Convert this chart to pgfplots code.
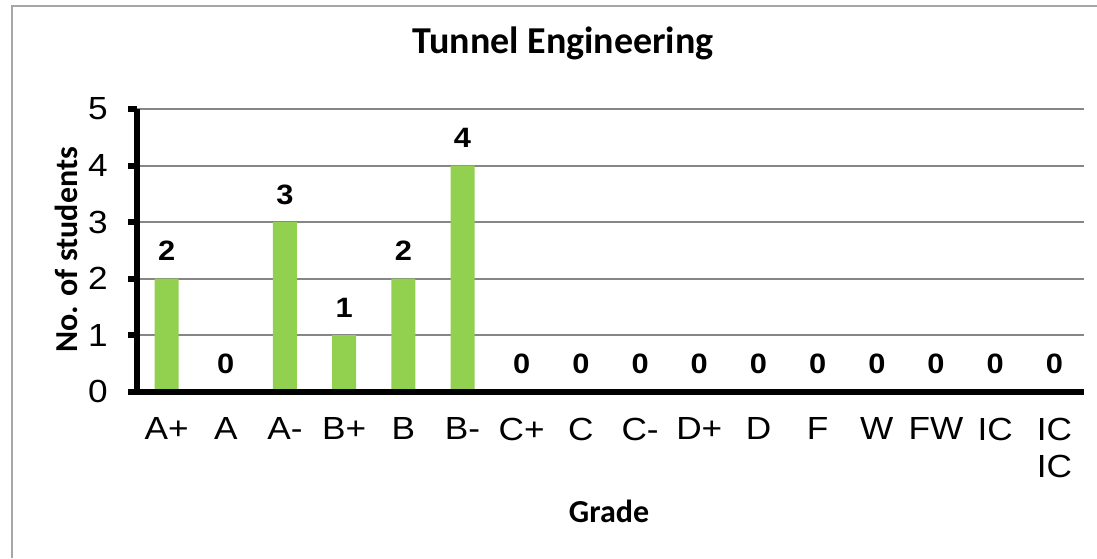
\documentclass[border=0pt]{standalone}
\usepackage{pgfplots}
\pgfplotsset{compat=1.18}
\usepackage{fontspec}
\setmainfont{Liberation Sans}[FakeStretch=1.1]
\newfontfamily\carlito{Carlito}
\definecolor{barg}{HTML}{92D050}
\definecolor{gridg}{HTML}{868686}
\definecolor{frameg}{HTML}{A6A6A6}
\newcommand\ticksize{\fontsize{16pt}{18.5pt}\selectfont}
\newcommand\datasize{\fontsize{14pt}{16pt}\selectfont\bfseries}
\begin{document}
\begin{tikzpicture}
\useasboundingbox (0pt,0pt) rectangle (548.5pt,279pt);
\draw[frameg, line width=1.25pt] (6pt,0pt) -- (6pt,276pt) -- (548.5pt,276pt);
\begin{axis}[
  at={(68.5pt,83.25pt)}, anchor=south west,
  scale only axis, width=473.5pt, height=141.25pt,
  xmin=-0.5, xmax=15.5, ymin=0, ymax=5,
  ybar, bar width=12pt,
  axis x line*=bottom, axis y line*=left,
  axis line style={line width=3pt, black},
  ytick={0,1,2,3,4,5},
  xtick={0,...,15},
  xticklabels={A+,A,A-,B+,B,B-,C+,C,C-,D+,D,F,W,FW,IC,IC\\IC},
  minor xtick={-0.5,0.5,...,15.5},
  x tick style={draw=none},
  minor x tick style={line width=3pt, black},
  y tick style={line width=3pt, black},
  tick align=outside,
  major tick length=4.5pt, minor tick length=4.5pt,
  ymajorgrids, grid style={gridg, line width=1pt},
  tick label style={font=\ticksize},
  xticklabel style={align=center, inner sep=0pt, anchor=north, yshift=-8.5pt},
  yticklabel style={inner sep=0pt, anchor=east, xshift=-10pt},
  /pgf/number format/assume math mode=true,
  nodes near coords,
  every node near coord/.append style={font=\datasize, anchor=base, inner sep=0pt, yshift=9pt, black},
  clip=false,
]
\addplot[fill=barg, draw=none] coordinates {(0,2) (1,0) (2,3) (3,1) (4,2) (5,4) (6,0) (7,0) (8,0) (9,0) (10,0) (11,0) (12,0) (13,0) (14,0) (15,0)};
\draw[black, line width=3pt] (axis cs:-0.5,0) -- (axis cs:15.5,0);
\end{axis}
\node[anchor=base, inner sep=0pt, font=\carlito\bfseries\fontsize{19}{23}\selectfont] at (281.5pt,252pt) {Tunnel Engineering};
\node[anchor=base, inner sep=0pt, font=\carlito\bfseries\fontsize{16}{19}\selectfont] at (304.5pt,18pt) {Grade};
\node[anchor=base, inner sep=0pt, rotate=90, font=\carlito\bfseries\fontsize{16}{19}\selectfont] at (38.5pt,154pt) {No. of students};
\end{tikzpicture}
\end{document}
